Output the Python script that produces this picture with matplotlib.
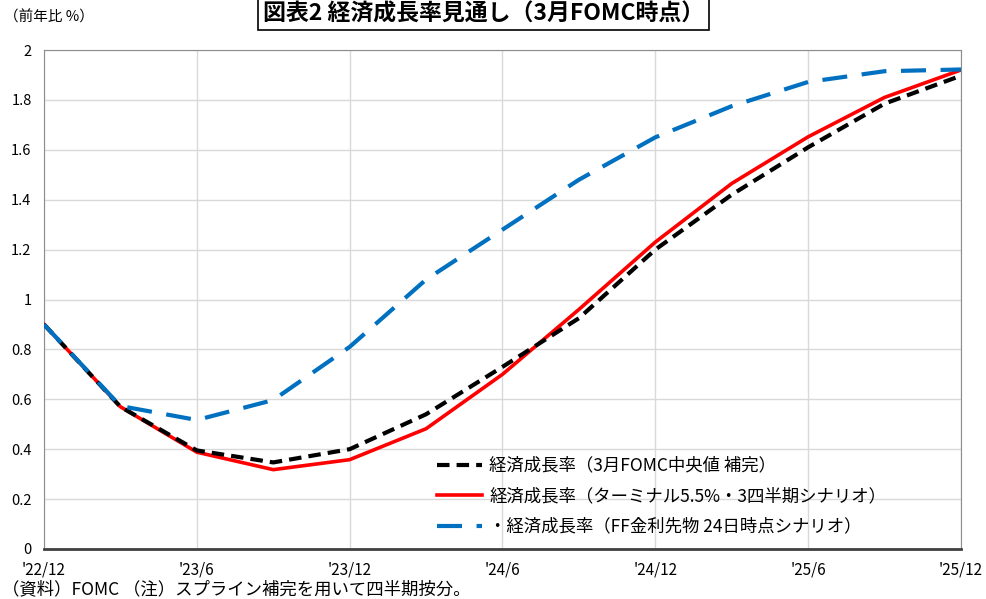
import numpy as np
import matplotlib
matplotlib.use("Agg")
import matplotlib.pyplot as plt

plt.rcParams['font.family'] = ['Noto Sans CJK JP', 'DejaVu Sans']

# 四半期（'22/12 〜 '25/12）
quarters = ["'22/12", "'23/3", "'23/6", "'23/9", "'23/12", "'24/3", "'24/6",
            "'24/9", "'24/12", "'25/3", "'25/6", "'25/9", "'25/12"]
tick_labels = ["'22/12", "'23/6", "'23/12", "'24/6", "'24/12", "'25/6", "'25/12"]

fomc_median = [0.90, 0.57, 0.395, 0.347, 0.40, 0.54, 0.73, 0.925, 1.20, 1.42, 1.61, 1.785, 1.897]
terminal_55 = [0.90, 0.57, 0.388, 0.318, 0.358, 0.482, 0.70, 0.96, 1.23, 1.465, 1.652, 1.81, 1.92]
ff_futures = [0.90, 0.573, 0.517, 0.597, 0.81, 1.08, 1.28, 1.48, 1.65, 1.775, 1.872, 1.915, 1.922]

labels = ["経済成長率（3月FOMC中央値 補完）",
          "経済成長率（ターミナル5.5%・3四半期シナリオ）",
          "・経済成長率（FF金利先物 24日時点シナリオ）"]

x = np.arange(len(quarters))

fig = plt.figure(figsize=(9.87, 5.99), dpi=100)
ax = fig.add_axes([0.0446, 0.0835, 0.929, 0.833])

ax.plot(x, terminal_55, color="#ff0000", lw=2.6, label=labels[1], zorder=3)
ax.plot(x, fomc_median, color="black", lw=3, ls=(0, (3, 1.7)), label=labels[0], zorder=4)
ax.plot(x, ff_futures, color="#0070c0", lw=3, ls=(0, (6, 3.5)), label=labels[2], zorder=5)

ax.set_xlim(0, len(quarters) - 1)
ax.set_ylim(0, 2)
ax.set_yticks(np.arange(0, 2.01, 0.2))
ax.set_yticklabels(["0", "0.2", "0.4", "0.6", "0.8", "1", "1.2", "1.4", "1.6", "1.8", "2"])
ax.set_xticks(x[::2])
ax.set_xticklabels(tick_labels)
ax.tick_params(length=0, labelsize=10.5, pad=9)
ax.tick_params(axis="x", labelsize=11, pad=9)
ax.grid(True, color="#d9d9d9", lw=1)
ax.set_axisbelow(True)

for side in ["top", "right", "left"]:
    ax.spines[side].set_color("#8c8c8c")
ax.spines["bottom"].set_color("#404040")
ax.spines["bottom"].set_linewidth(2)

h, l = ax.get_legend_handles_labels()
order = [1, 0, 2]
ax.legend([h[i] for i in order], [l[i] for i in order], loc="upper left",
          bbox_to_anchor=(0.4286, 0.185), frameon=False, fontsize=12.5,
          borderpad=0, borderaxespad=0,
          handlelength=2.6, handletextpad=0.4, labelspacing=0.72)

fig.text(0.49, 0.976, "図表2 経済成長率見通し（3月FOMC時点）", ha="center", va="center",
         fontsize=16.5, fontweight="bold",
         bbox=dict(boxstyle="square,pad=0.2", fc="white", ec="black", lw=1.2))
fig.text(0.004, 0.97, "（前年比 %）", ha="left", va="center", fontsize=10.5)
fig.text(0.002, 0.017, "（資料）FOMC （注）スプライン補完を用いて四半期按分。",
         ha="left", va="center", fontsize=12.5)

plt.savefig("out.png", dpi=100)
